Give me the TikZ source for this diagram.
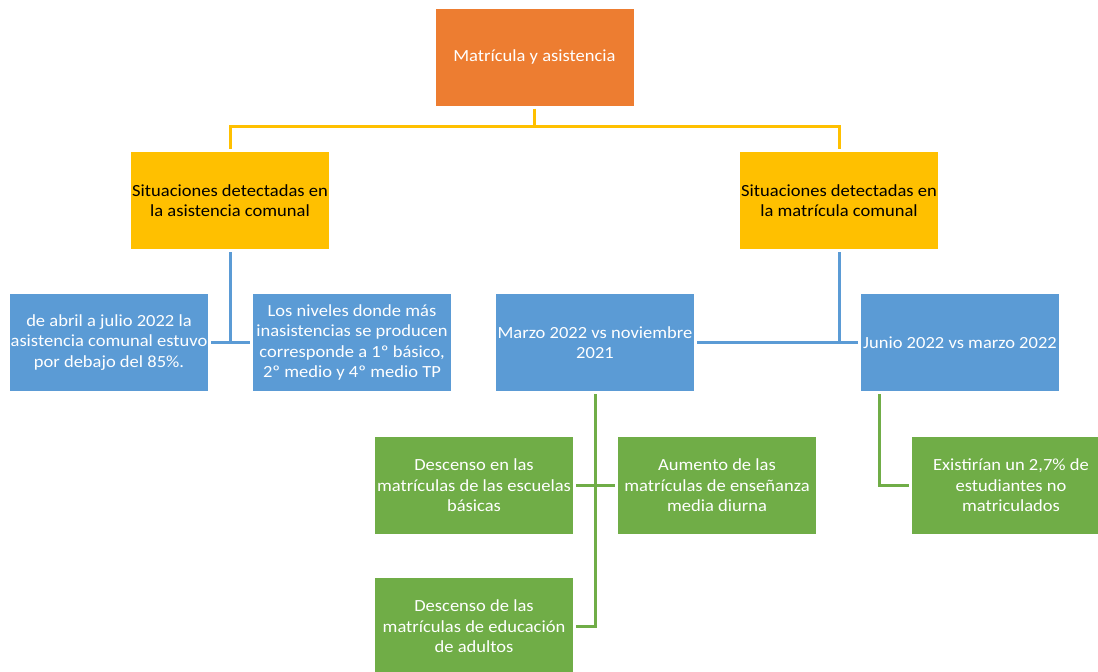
\documentclass[tikz,border=0pt]{standalone}
\usepackage{fontspec}
\setmainfont{Carlito}[FakeStretch=1.09]
\usepackage{xcolor}
\definecolor{naranja}{HTML}{ED7D31}
\definecolor{amarillo}{HTML}{FFC000}
\definecolor{azul}{HTML}{5B9BD5}
\definecolor{verde}{HTML}{70AD47}
\def\ancho{198pt}
\def\alto{97pt}

\begin{document}
\begin{tikzpicture}[x=1pt, y=-1pt,
    caja/.style={minimum width=\ancho, minimum height=\alto, inner sep=0pt,
      align=center, font=\fontsize{17}{20.5}\selectfont, text=white},
    raiz/.style={caja, fill=naranja},
    nivel/.style={caja, fill=amarillo, text=black},
    periodo/.style={caja, fill=azul},
    hallazgo/.style={caja, fill=verde},
    linea/.style={line width=3pt, shorten <=3pt, shorten >=3pt}]
    \useasboundingbox (0,0) rectangle (1098,672);
    \clip (0,0) rectangle (1098,672);

    % Raiz
    \node[raiz] (raiz) at (534.5,57) {Matrícula y asistencia};

    % Segundo nivel
    \node[nivel] (asis) at (230,200.5) {Situaciones detectadas en\\la asistencia comunal};
    \node[nivel] (matri) at (839,200.5) {Situaciones detectadas en\\la matrícula comunal};

    % Tercer nivel
    \node[periodo] (abril) at (109,342.5) {de abril a julio 2022 la\\asistencia comunal estuvo\\por debajo del 85\%.};
    \node[periodo] (niveles) at (352,342.5) {Los niveles donde más\\inasistencias se producen\\corresponde a 1º básico,\\2º medio y 4º medio TP};
    \node[periodo] (marzo) at (595,342.5) {Marzo 2022 vs noviembre\\2021};
    \node[periodo] (junio) at (960,342.5) {Junio 2022 vs marzo 2022};

    % Cuarto nivel
    \node[hallazgo] (basicas) at (474,485.5) {Descenso en las\\matrículas de las escuelas\\básicas};
    \node[hallazgo] (media) at (717,485.5) {Aumento de las\\matrículas de enseñanza\\media diurna};
    \node[hallazgo] (adultos) at (474,626.5) {Descenso de las\\matrículas de educación\\de adultos};
    \node[hallazgo] (nomat) at (1011,485.5) {Existirían un 2,7\% de\\estudiantes no\\matriculados};

    % Conectores amarillos
    \draw[linea, amarillo, shorten >=0pt] (raiz.south) -- ++(0,21) coordinate (bus);
    \draw[linea, amarillo, shorten <=0pt] (bus) -| (asis.north);
    \draw[linea, amarillo, shorten <=0pt] (bus) -| (matri.north);

    % Conectores azules
    \draw[linea, azul, shorten >=0pt] (asis.south) -- (asis.south |- abril.east);
    \draw[linea, azul] (abril.east) -- (niveles.west);
    \draw[linea, azul, shorten >=0pt] (matri.south) -- (matri.south |- junio.west);
    \draw[linea, azul] (marzo.east) -- (junio.west);

    % Conectores verdes
    \draw[linea, verde] (marzo.south) -- (marzo.south |- adultos.east) -- (adultos.east);
    \draw[linea, verde] (basicas.east) -- (media.west);
    \coordinate (baja) at ([xshift=19pt]junio.south west);
    \draw[linea, verde] (baja) |- (nomat.west);
  \end{tikzpicture}
\end{document}
